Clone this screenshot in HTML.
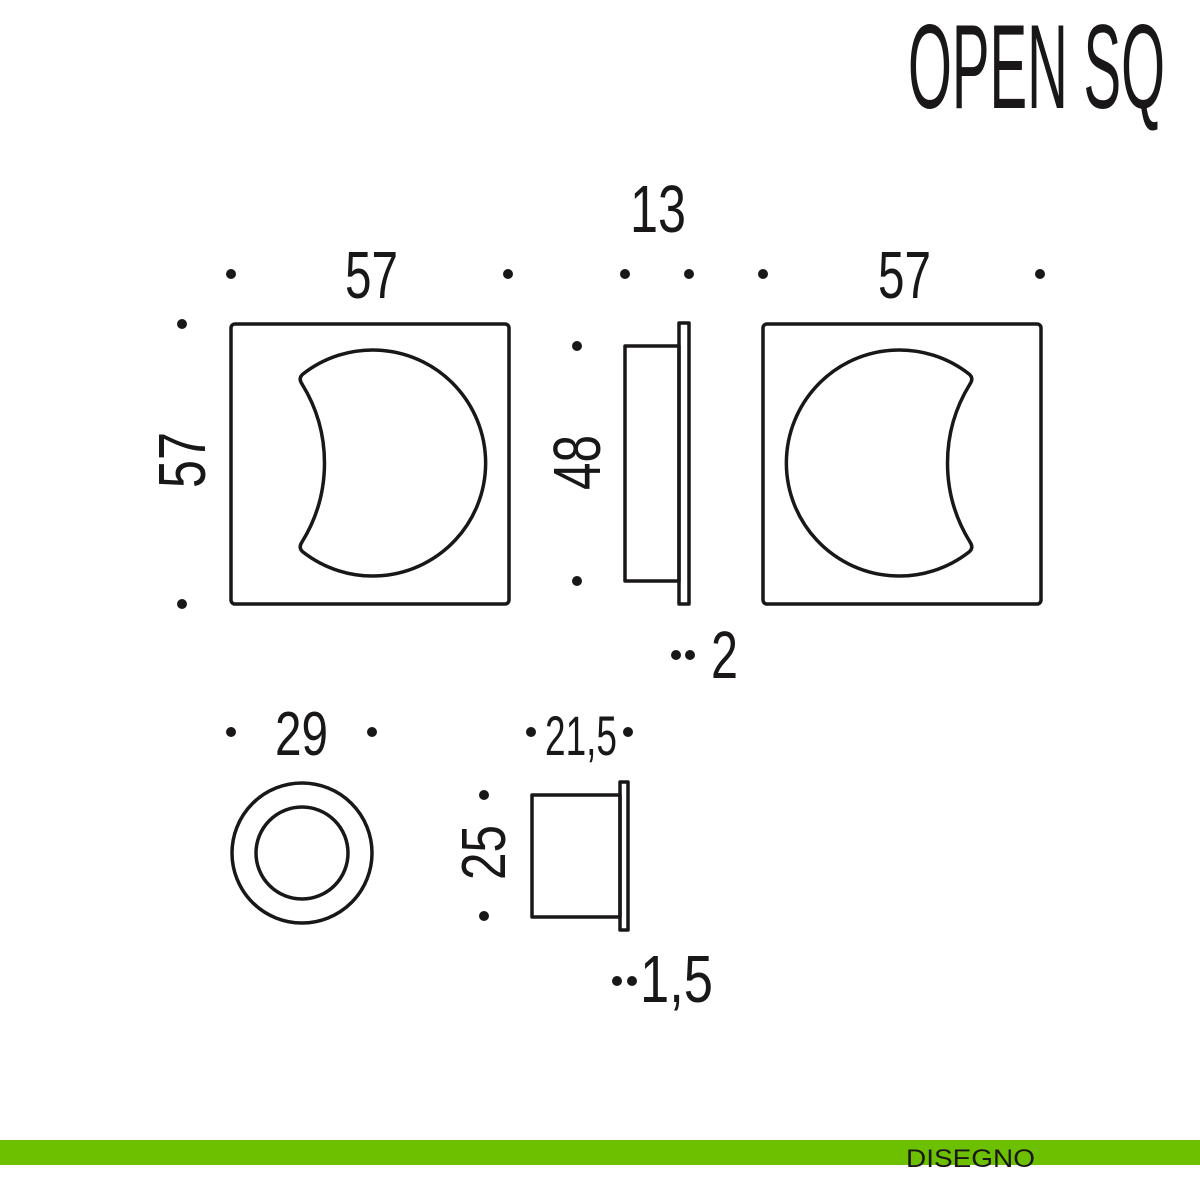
<!DOCTYPE html>
<html><head><meta charset="utf-8"><style>
html,body{margin:0;padding:0;background:#fff;width:1200px;height:1200px;overflow:hidden}
text{font-family:"Liberation Sans",sans-serif;fill:#1a1718}
</style></head><body>
<svg width="1200" height="1200" viewBox="0 0 1200 1200" xmlns="http://www.w3.org/2000/svg">
<g fill="none" stroke="#1a1718" stroke-width="3.5" stroke-linejoin="round">
<rect x="231" y="324" width="278" height="280" rx="4"/>
<rect x="763" y="324" width="278" height="280" rx="4"/>
<path d="M303,374 A113,113 0 1 1 303,552 Q298,548 302,542 A150,150 0 0 0 302,384 Q298,378 303,374 Z"/>
<path transform="translate(1272,0) scale(-1,1)" d="M303,374 A113,113 0 1 1 303,552 Q298,548 302,542 A150,150 0 0 0 302,384 Q298,378 303,374 Z"/>
<rect x="679" y="323" width="10" height="281"/>
<rect x="625" y="346" width="54" height="235"/>
<circle cx="302" cy="853" r="70"/>
<circle cx="302" cy="853" r="46"/>
<rect x="620" y="782" width="8" height="148"/>
<rect x="532" y="795" width="88" height="122"/>
</g>
<g fill="#1a1718">
<circle cx="231" cy="274" r="5"/><circle cx="508" cy="274" r="5"/>
<circle cx="625" cy="274" r="5"/><circle cx="689" cy="274" r="5"/>
<circle cx="763" cy="274" r="5"/><circle cx="1040" cy="274" r="5"/>
<circle cx="182" cy="324" r="5"/><circle cx="182" cy="604" r="5"/>
<circle cx="577" cy="346" r="5"/><circle cx="577" cy="581" r="5"/>
<circle cx="676" cy="655" r="5"/><circle cx="690" cy="655" r="5"/>
<circle cx="231" cy="732" r="5"/><circle cx="372" cy="732" r="5"/>
<circle cx="531" cy="732" r="5"/><circle cx="628" cy="732" r="5"/>
<circle cx="484" cy="795" r="5"/><circle cx="484" cy="916" r="5"/>
<circle cx="617" cy="981" r="5"/><circle cx="632" cy="981" r="5"/>
</g>
<text x="908" y="108" font-size="120" textLength="257" lengthAdjust="spacingAndGlyphs" style="font-family:'DejaVu Sans ExtraLight','Liberation Sans',sans-serif;font-weight:200">OPEN SQ</text>
<text x="345" y="298" font-size="67" textLength="53" lengthAdjust="spacingAndGlyphs">57</text>
<text x="630" y="232" font-size="67" textLength="56" lengthAdjust="spacingAndGlyphs">13</text>
<text x="878" y="298" font-size="67" textLength="53" lengthAdjust="spacingAndGlyphs">57</text>
<text transform="translate(205,488) rotate(-90)" font-size="67" textLength="56" lengthAdjust="spacingAndGlyphs">57</text>
<text transform="translate(600,490) rotate(-90)" font-size="67" textLength="55" lengthAdjust="spacingAndGlyphs">48</text>
<text x="711" y="678" font-size="67" textLength="27" lengthAdjust="spacingAndGlyphs">2</text>
<text x="275" y="755" font-size="62" textLength="53" lengthAdjust="spacingAndGlyphs">29</text>
<text x="545" y="755" font-size="56" textLength="72" lengthAdjust="spacingAndGlyphs">21,5</text>
<text transform="translate(505,880) rotate(-90)" font-size="62" textLength="55" lengthAdjust="spacingAndGlyphs">25</text>
<text x="640" y="1002" font-size="67" textLength="73" lengthAdjust="spacingAndGlyphs">1,5</text>
<rect x="0" y="1140" width="1200" height="25" fill="#6cc000"/>
<text x="906" y="1167" font-size="25" textLength="129" lengthAdjust="spacingAndGlyphs">DISEGNO</text>
</svg>
</body></html>
